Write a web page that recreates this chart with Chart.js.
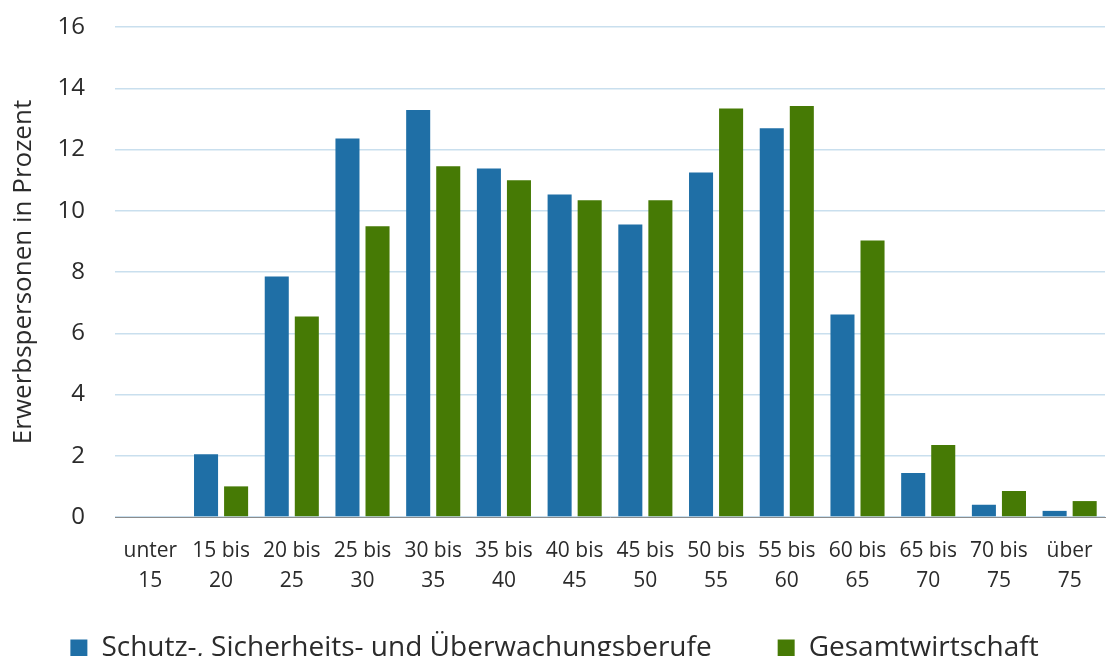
<!DOCTYPE html>
<html>
<head>
<meta charset="utf-8">
<script src="https://cdn.jsdelivr.net/npm/chart.js@4"></script>
<style>
  body { margin: 0; background: #fff; }
</style>
</head>
<body>
<canvas id="myBarChart" width="1109" height="656"></canvas>
<script>
// data
const ageGroups = [
  ['unter', '15'], ['15 bis', '20'], ['20 bis', '25'], ['25 bis', '30'],
  ['30 bis', '35'], ['35 bis', '40'], ['40 bis', '45'], ['45 bis', '50'],
  ['50 bis', '55'], ['55 bis', '60'], ['60 bis', '65'], ['65 bis', '70'],
  ['70 bis', '75'], ['über', '75']
];
const schutzValues = [0, 2.05, 7.85, 12.36, 13.29, 11.38, 10.53, 9.55, 11.25, 12.69, 6.61, 1.44, 0.40, 0.20];
const gesamtValues = [0, 1.0, 6.55, 9.49, 11.45, 11.0, 10.34, 10.34, 13.34, 13.42, 9.03, 2.35, 0.85, 0.52];
const yTicks = [0, 2, 4, 6, 8, 10, 12, 14, 16];

const textColor = '#2b2b2b';

const dataBar = {
  labels: ageGroups,
  datasets: [{
    label: 'Schutz-, Sicherheits- und Überwachungsberufe',
    backgroundColor: '#1F6FA6',
    data: schutzValues,
  }, {
    label: 'Gesamtwirtschaft',
    backgroundColor: '#467A05',
    data: gesamtValues,
  }]
};

const configBar = {
  type: 'bar',
  data: dataBar,
  options: {
    responsive: false,
    animation: false,
    categoryPercentage: 0.85,
    barPercentage: 0.8,
    layout: { padding: { top: 0, right: 4, bottom: -16, left: 4 } },
    plugins: {
      tooltip: { enabled: false },
      legend: {
        position: 'bottom',
        labels: {
          color: textColor,
          font: { family: 'Open Sans', size: 28 },
          boxWidth: 17,
          boxHeight: 17,
          padding: 10,
          // wider gap between the two entries, like the original
          generateLabels: (chart) => {
            const items = Chart.defaults.plugins.legend.labels.generateLabels(chart);
            items[0].text += '\u2003\u2003';
            return items;
          }
        }
      }
    },
    scales: {
      x: {
        grid: { display: false },
        border: { color: '#8c8c8c', width: 1 },
        ticks: {
          color: textColor,
          font: { family: 'Open Sans', size: 21, lineHeight: 1.43 },
          padding: 11,
          maxRotation: 0,
          autoSkip: false
        },
        afterFit: (scale) => { scale.height = 107; }
      },
      y: {
        min: 0,
        max: 16,
        afterBuildTicks: (scale) => { scale.ticks = yTicks.map(v => ({ value: v })); },
        grid: { color: '#c9dfee', lineWidth: 1.5, drawTicks: false },
        border: { display: false },
        ticks: {
          color: textColor,
          font: { family: 'Open Sans', size: 24 },
          padding: 30
        },
        title: {
          display: true,
          text: 'Erwerbspersonen in Prozent',
          color: textColor,
          font: { family: 'Open Sans', size: 26 },
          padding: { top: 4, bottom: 0 }
        },
        afterFit: (scale) => {
          scale.width = 111;
          scale.paddingTop = 27;
          scale.paddingBottom = 0;
        }
      }
    }
  }
};

const myBarChart = new Chart(
  document.getElementById('myBarChart'),
  configBar
);
</script>
</body>
</html>
